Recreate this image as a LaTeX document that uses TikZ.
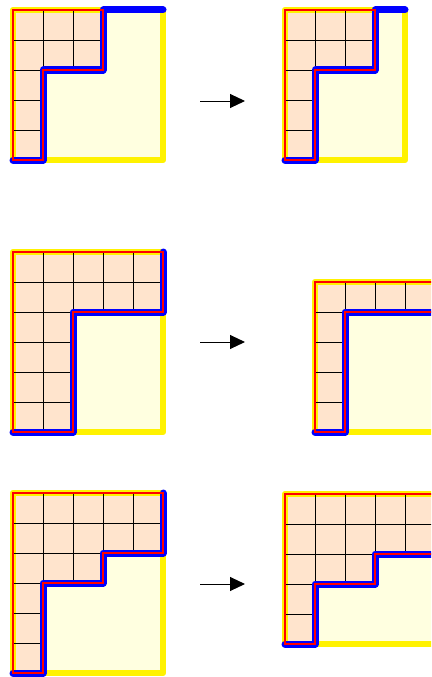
\documentclass[tikz,border=0pt]{standalone}
\usetikzlibrary{arrows.meta}
\definecolor{peach}{RGB}{255,228,205}
\definecolor{paleyel}{RGB}{255,255,224}
\tikzset{
  boxfill/.style={fill=paleyel},
  cellfill/.style={fill=peach},
  boxline/.style={draw=yellow, line width=6.5pt, line join=round, line cap=round},
  gridline/.style={draw=black, line width=0.8pt},
  rimline/.style={draw=blue, line width=7pt, line cap=round, line join=round},
  shapeline/.style={draw=red, line width=1.3pt},
  maparrow/.style={-{Triangle[length=15pt,width=14pt]}, line width=1pt},
}
% #1 origin, #2 width, #3 height, #4 shape polygon, #5 rim path
\newcommand\drawpanel[5]{%
  \begin{scope}[shift={#1}, x=30pt, y=-30pt]
    \fill[boxfill] (0,0) rectangle (#2,#3);
    \fill[cellfill] #4 -- cycle;
    \draw[boxline] (0,0) rectangle (#2,#3);
    \begin{scope}
      \clip #4 -- cycle;
      \foreach \i in {1,...,#2} {\draw[gridline] (\i,0) -- (\i,#3);}
      \foreach \j in {1,...,#3} {\draw[gridline] (0,\j) -- (#2,\j);}
    \end{scope}
    \draw[rimline] #5;
    \draw[shapeline] #4 -- cycle;
  \end{scope}}
\begin{document}
\begin{tikzpicture}
\useasboundingbox (0,-677pt) rectangle (431pt,0);
\clip (0,-677pt) rectangle (431pt,0);
% row 1
\drawpanel{(13pt,-10pt)}{5}{5}{(0,0) -- (3,0) -- (3,2) -- (1,2) -- (1,5) -- (0,5)}{(0,5) -- (1,5) -- (1,2) -- (3,2) -- (3,0) -- (5,0)}
\drawpanel{(285pt,-10pt)}{4}{5}{(0,0) -- (3,0) -- (3,2) -- (1,2) -- (1,5) -- (0,5)}{(0,5) -- (1,5) -- (1,2) -- (3,2) -- (3,0) -- (4,0)}
% row 2
\drawpanel{(13pt,-252pt)}{5}{6}{(0,0) -- (5,0) -- (5,2) -- (2,2) -- (2,6) -- (0,6)}{(0,6) -- (2,6) -- (2,2) -- (5,2) -- (5,0)}
\drawpanel{(315pt,-282pt)}{4}{5}{(0,0) -- (4,0) -- (4,1) -- (1,1) -- (1,5) -- (0,5)}{(0,5) -- (1,5) -- (1,1) -- (4,1) -- (4,0)}
% row 3
\drawpanel{(13pt,-493pt)}{5}{6}{(0,0) -- (5,0) -- (5,2) -- (3,2) -- (3,3) -- (1,3) -- (1,6) -- (0,6)}{(0,6) -- (1,6) -- (1,3) -- (3,3) -- (3,2) -- (5,2) -- (5,0)}
\drawpanel{(285pt,-494pt)}{5}{5}{(0,0) -- (5,0) -- (5,2) -- (3,2) -- (3,3) -- (1,3) -- (1,5) -- (0,5)}{(0,5) -- (1,5) -- (1,3) -- (3,3) -- (3,2) -- (5,2) -- (5,0)}
% arrows
\coordinate (a1s) at (200pt,-101pt);
\coordinate (a1e) at (245pt,-101pt);
\coordinate (a2s) at (200pt,-342pt);
\coordinate (a2e) at (245pt,-342pt);
\coordinate (a3s) at (200pt,-584pt);
\coordinate (a3e) at (245pt,-584pt);
\draw[maparrow] (a1s) -- (a1e);
\draw[maparrow] (a2s) -- (a2e);
\draw[maparrow] (a3s) -- (a3e);
\end{tikzpicture}
\end{document}
